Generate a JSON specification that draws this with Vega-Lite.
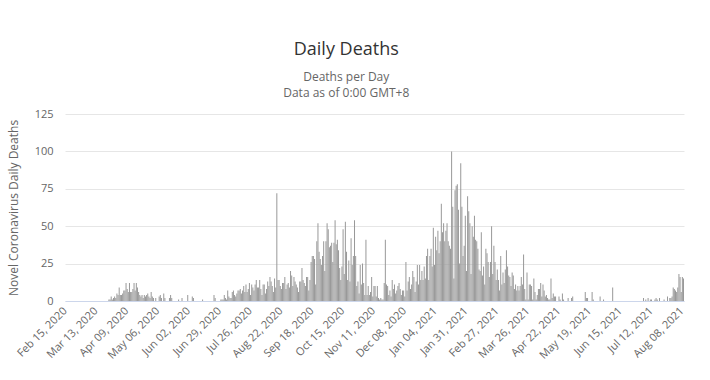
{
"$schema":"https://vega.github.io/schema/vega-lite/v6.json",
"width":619,"height":187,
"autosize":{"type":"none"},
"padding":{"left":65,"top":114,"right":26,"bottom":79},
"background":"white",
"config":{"view":{"stroke":null},"font":"Open Sans"},
"title":{"text":"Daily Deaths","subtitle":["Deaths per Day","Data as of 0:00 GMT+8"],"anchor":"middle","frame":"bounds","fontSize":18,"fontWeight":"normal","color":"#333333","subtitleFontSize":12,"subtitleColor":"#666666","subtitleLineHeight":16,"subtitlePadding":13,"offset":9},
"data":{"values":[
{"date":"2020-02-15","deaths":0},{"date":"2020-02-16","deaths":0},{"date":"2020-02-17","deaths":0},{"date":"2020-02-18","deaths":0},{"date":"2020-02-19","deaths":0},{"date":"2020-02-20","deaths":0},{"date":"2020-02-21","deaths":0},{"date":"2020-02-22","deaths":0},{"date":"2020-02-23","deaths":0},{"date":"2020-02-24","deaths":0},{"date":"2020-02-25","deaths":0},{"date":"2020-02-26","deaths":0},{"date":"2020-02-27","deaths":0},{"date":"2020-02-28","deaths":0},{"date":"2020-02-29","deaths":0},
{"date":"2020-03-01","deaths":0},{"date":"2020-03-02","deaths":0},{"date":"2020-03-03","deaths":0},{"date":"2020-03-04","deaths":0},{"date":"2020-03-05","deaths":0},{"date":"2020-03-06","deaths":0},{"date":"2020-03-07","deaths":0},{"date":"2020-03-08","deaths":0},{"date":"2020-03-09","deaths":0},{"date":"2020-03-10","deaths":0},{"date":"2020-03-11","deaths":0},{"date":"2020-03-12","deaths":0},{"date":"2020-03-13","deaths":0},{"date":"2020-03-14","deaths":0},{"date":"2020-03-15","deaths":0},{"date":"2020-03-16","deaths":0},{"date":"2020-03-17","deaths":0},{"date":"2020-03-18","deaths":0},{"date":"2020-03-19","deaths":0},{"date":"2020-03-20","deaths":0},{"date":"2020-03-21","deaths":0},{"date":"2020-03-22","deaths":0},{"date":"2020-03-23","deaths":0},{"date":"2020-03-24","deaths":1},{"date":"2020-03-25","deaths":1},{"date":"2020-03-26","deaths":3},{"date":"2020-03-27","deaths":1},{"date":"2020-03-28","deaths":2},{"date":"2020-03-29","deaths":3},{"date":"2020-03-30","deaths":2},{"date":"2020-03-31","deaths":5},
{"date":"2020-04-01","deaths":4},{"date":"2020-04-02","deaths":9},{"date":"2020-04-03","deaths":4},{"date":"2020-04-04","deaths":4},{"date":"2020-04-05","deaths":5},{"date":"2020-04-06","deaths":7},{"date":"2020-04-07","deaths":7},{"date":"2020-04-08","deaths":12},{"date":"2020-04-09","deaths":8},{"date":"2020-04-10","deaths":6},{"date":"2020-04-11","deaths":12},{"date":"2020-04-12","deaths":6},{"date":"2020-04-13","deaths":6},{"date":"2020-04-14","deaths":8},{"date":"2020-04-15","deaths":12},{"date":"2020-04-16","deaths":7},{"date":"2020-04-17","deaths":12},{"date":"2020-04-18","deaths":9},{"date":"2020-04-19","deaths":6},{"date":"2020-04-20","deaths":4},{"date":"2020-04-21","deaths":3},{"date":"2020-04-22","deaths":4},{"date":"2020-04-23","deaths":2},{"date":"2020-04-24","deaths":4},{"date":"2020-04-25","deaths":3},{"date":"2020-04-26","deaths":4},{"date":"2020-04-27","deaths":5},{"date":"2020-04-28","deaths":3},{"date":"2020-04-29","deaths":2},{"date":"2020-04-30","deaths":6},
{"date":"2020-05-01","deaths":3},{"date":"2020-05-02","deaths":2},{"date":"2020-05-03","deaths":0},{"date":"2020-05-04","deaths":2},{"date":"2020-05-05","deaths":0},{"date":"2020-05-06","deaths":0},{"date":"2020-05-07","deaths":3},{"date":"2020-05-08","deaths":4},{"date":"2020-05-09","deaths":2},{"date":"2020-05-10","deaths":0},{"date":"2020-05-11","deaths":5},{"date":"2020-05-12","deaths":2},{"date":"2020-05-13","deaths":0},{"date":"2020-05-14","deaths":0},{"date":"2020-05-15","deaths":0},{"date":"2020-05-16","deaths":2},{"date":"2020-05-17","deaths":4},{"date":"2020-05-18","deaths":2},{"date":"2020-05-19","deaths":0},{"date":"2020-05-20","deaths":0},{"date":"2020-05-21","deaths":0},{"date":"2020-05-22","deaths":0},{"date":"2020-05-23","deaths":0},{"date":"2020-05-24","deaths":1},{"date":"2020-05-25","deaths":0},{"date":"2020-05-26","deaths":0},{"date":"2020-05-27","deaths":2},{"date":"2020-05-28","deaths":0},{"date":"2020-05-29","deaths":0},{"date":"2020-05-30","deaths":0},{"date":"2020-05-31","deaths":0},
{"date":"2020-06-01","deaths":4},{"date":"2020-06-02","deaths":0},{"date":"2020-06-03","deaths":0},{"date":"2020-06-04","deaths":0},{"date":"2020-06-05","deaths":3},{"date":"2020-06-06","deaths":2},{"date":"2020-06-07","deaths":0},{"date":"2020-06-08","deaths":0},{"date":"2020-06-09","deaths":0},{"date":"2020-06-10","deaths":0},{"date":"2020-06-11","deaths":0},{"date":"2020-06-12","deaths":0},{"date":"2020-06-13","deaths":0},{"date":"2020-06-14","deaths":1},{"date":"2020-06-15","deaths":0},{"date":"2020-06-16","deaths":0},{"date":"2020-06-17","deaths":0},{"date":"2020-06-18","deaths":0},{"date":"2020-06-19","deaths":0},{"date":"2020-06-20","deaths":0},{"date":"2020-06-21","deaths":0},{"date":"2020-06-22","deaths":0},{"date":"2020-06-23","deaths":0},{"date":"2020-06-24","deaths":4},{"date":"2020-06-25","deaths":2},{"date":"2020-06-26","deaths":0},{"date":"2020-06-27","deaths":0},{"date":"2020-06-28","deaths":0},{"date":"2020-06-29","deaths":0},{"date":"2020-06-30","deaths":1},
{"date":"2020-07-01","deaths":1},{"date":"2020-07-02","deaths":1},{"date":"2020-07-03","deaths":4},{"date":"2020-07-04","deaths":2},{"date":"2020-07-05","deaths":1},{"date":"2020-07-06","deaths":7},{"date":"2020-07-07","deaths":3},{"date":"2020-07-08","deaths":2},{"date":"2020-07-09","deaths":2},{"date":"2020-07-10","deaths":6},{"date":"2020-07-11","deaths":7},{"date":"2020-07-12","deaths":4},{"date":"2020-07-13","deaths":3},{"date":"2020-07-14","deaths":5},{"date":"2020-07-15","deaths":7},{"date":"2020-07-16","deaths":7},{"date":"2020-07-17","deaths":8},{"date":"2020-07-18","deaths":5},{"date":"2020-07-19","deaths":7},{"date":"2020-07-20","deaths":10},{"date":"2020-07-21","deaths":6},{"date":"2020-07-22","deaths":11},{"date":"2020-07-23","deaths":6},{"date":"2020-07-24","deaths":8},{"date":"2020-07-25","deaths":12},{"date":"2020-07-26","deaths":4},{"date":"2020-07-27","deaths":11},{"date":"2020-07-28","deaths":9},{"date":"2020-07-29","deaths":7},{"date":"2020-07-30","deaths":11},{"date":"2020-07-31","deaths":14},
{"date":"2020-08-01","deaths":9},{"date":"2020-08-02","deaths":9},{"date":"2020-08-03","deaths":14},{"date":"2020-08-04","deaths":8},{"date":"2020-08-05","deaths":4},{"date":"2020-08-06","deaths":11},{"date":"2020-08-07","deaths":11},{"date":"2020-08-08","deaths":5},{"date":"2020-08-09","deaths":8},{"date":"2020-08-10","deaths":13},{"date":"2020-08-11","deaths":10},{"date":"2020-08-12","deaths":16},{"date":"2020-08-13","deaths":13},{"date":"2020-08-14","deaths":10},{"date":"2020-08-15","deaths":6},{"date":"2020-08-16","deaths":15},{"date":"2020-08-17","deaths":9},{"date":"2020-08-18","deaths":72},{"date":"2020-08-19","deaths":14},{"date":"2020-08-20","deaths":14},{"date":"2020-08-21","deaths":10},{"date":"2020-08-22","deaths":8},{"date":"2020-08-23","deaths":12},{"date":"2020-08-24","deaths":12},{"date":"2020-08-25","deaths":16},{"date":"2020-08-26","deaths":8},{"date":"2020-08-27","deaths":11},{"date":"2020-08-28","deaths":12},{"date":"2020-08-29","deaths":9},{"date":"2020-08-30","deaths":20},{"date":"2020-08-31","deaths":17},
{"date":"2020-09-01","deaths":10},{"date":"2020-09-02","deaths":16},{"date":"2020-09-03","deaths":13},{"date":"2020-09-04","deaths":11},{"date":"2020-09-05","deaths":9},{"date":"2020-09-06","deaths":6},{"date":"2020-09-07","deaths":13},{"date":"2020-09-08","deaths":13},{"date":"2020-09-09","deaths":22},{"date":"2020-09-10","deaths":14},{"date":"2020-09-11","deaths":12},{"date":"2020-09-12","deaths":10},{"date":"2020-09-13","deaths":16},{"date":"2020-09-14","deaths":16},{"date":"2020-09-15","deaths":7},{"date":"2020-09-16","deaths":14},{"date":"2020-09-17","deaths":26},{"date":"2020-09-18","deaths":30},{"date":"2020-09-19","deaths":30},{"date":"2020-09-20","deaths":28},{"date":"2020-09-21","deaths":11},{"date":"2020-09-22","deaths":40},{"date":"2020-09-23","deaths":52},{"date":"2020-09-24","deaths":33},{"date":"2020-09-25","deaths":28},{"date":"2020-09-26","deaths":24},{"date":"2020-09-27","deaths":30},{"date":"2020-09-28","deaths":40},{"date":"2020-09-29","deaths":20},{"date":"2020-09-30","deaths":40},
{"date":"2020-10-01","deaths":52},{"date":"2020-10-02","deaths":48},{"date":"2020-10-03","deaths":36},{"date":"2020-10-04","deaths":37},{"date":"2020-10-05","deaths":39},{"date":"2020-10-06","deaths":26},{"date":"2020-10-07","deaths":39},{"date":"2020-10-08","deaths":54},{"date":"2020-10-09","deaths":38},{"date":"2020-10-10","deaths":41},{"date":"2020-10-11","deaths":34},{"date":"2020-10-12","deaths":22},{"date":"2020-10-13","deaths":14},{"date":"2020-10-14","deaths":23},{"date":"2020-10-15","deaths":48},{"date":"2020-10-16","deaths":18},{"date":"2020-10-17","deaths":53},{"date":"2020-10-18","deaths":33},{"date":"2020-10-19","deaths":14},{"date":"2020-10-20","deaths":27},{"date":"2020-10-21","deaths":13},{"date":"2020-10-22","deaths":42},{"date":"2020-10-23","deaths":24},{"date":"2020-10-24","deaths":30},{"date":"2020-10-25","deaths":54},{"date":"2020-10-26","deaths":30},{"date":"2020-10-27","deaths":10},{"date":"2020-10-28","deaths":13},{"date":"2020-10-29","deaths":5},{"date":"2020-10-30","deaths":24},{"date":"2020-10-31","deaths":11},
{"date":"2020-11-01","deaths":25},{"date":"2020-11-02","deaths":12},{"date":"2020-11-03","deaths":4},{"date":"2020-11-04","deaths":41},{"date":"2020-11-05","deaths":4},{"date":"2020-11-06","deaths":10},{"date":"2020-11-07","deaths":4},{"date":"2020-11-08","deaths":6},{"date":"2020-11-09","deaths":16},{"date":"2020-11-10","deaths":3},{"date":"2020-11-11","deaths":10},{"date":"2020-11-12","deaths":10},{"date":"2020-11-13","deaths":3},{"date":"2020-11-14","deaths":10},{"date":"2020-11-15","deaths":2},{"date":"2020-11-16","deaths":1},{"date":"2020-11-17","deaths":2},{"date":"2020-11-18","deaths":1},{"date":"2020-11-19","deaths":1},{"date":"2020-11-20","deaths":12},{"date":"2020-11-21","deaths":41},{"date":"2020-11-22","deaths":11},{"date":"2020-11-23","deaths":10},{"date":"2020-11-24","deaths":4},{"date":"2020-11-25","deaths":7},{"date":"2020-11-26","deaths":3},{"date":"2020-11-27","deaths":14},{"date":"2020-11-28","deaths":8},{"date":"2020-11-29","deaths":11},{"date":"2020-11-30","deaths":5},
{"date":"2020-12-01","deaths":7},{"date":"2020-12-02","deaths":10},{"date":"2020-12-03","deaths":12},{"date":"2020-12-04","deaths":8},{"date":"2020-12-05","deaths":4},{"date":"2020-12-06","deaths":7},{"date":"2020-12-07","deaths":7},{"date":"2020-12-08","deaths":3},{"date":"2020-12-09","deaths":26},{"date":"2020-12-10","deaths":7},{"date":"2020-12-11","deaths":13},{"date":"2020-12-12","deaths":16},{"date":"2020-12-13","deaths":8},{"date":"2020-12-14","deaths":11},{"date":"2020-12-15","deaths":20},{"date":"2020-12-16","deaths":16},{"date":"2020-12-17","deaths":6},{"date":"2020-12-18","deaths":13},{"date":"2020-12-19","deaths":24},{"date":"2020-12-20","deaths":11},{"date":"2020-12-21","deaths":24},{"date":"2020-12-22","deaths":14},{"date":"2020-12-23","deaths":20},{"date":"2020-12-24","deaths":14},{"date":"2020-12-25","deaths":23},{"date":"2020-12-26","deaths":15},{"date":"2020-12-27","deaths":30},{"date":"2020-12-28","deaths":35},{"date":"2020-12-29","deaths":14},{"date":"2020-12-30","deaths":30},{"date":"2020-12-31","deaths":35},
{"date":"2021-01-01","deaths":23},{"date":"2021-01-02","deaths":49},{"date":"2021-01-03","deaths":24},{"date":"2021-01-04","deaths":43},{"date":"2021-01-05","deaths":34},{"date":"2021-01-06","deaths":47},{"date":"2021-01-07","deaths":32},{"date":"2021-01-08","deaths":40},{"date":"2021-01-09","deaths":65},{"date":"2021-01-10","deaths":46},{"date":"2021-01-11","deaths":52},{"date":"2021-01-12","deaths":40},{"date":"2021-01-13","deaths":47},{"date":"2021-01-14","deaths":52},{"date":"2021-01-15","deaths":40},{"date":"2021-01-16","deaths":37},{"date":"2021-01-17","deaths":35},{"date":"2021-01-18","deaths":100},{"date":"2021-01-19","deaths":63},{"date":"2021-01-20","deaths":15},{"date":"2021-01-21","deaths":74},{"date":"2021-01-22","deaths":77},{"date":"2021-01-23","deaths":78},{"date":"2021-01-24","deaths":61},{"date":"2021-01-25","deaths":25},{"date":"2021-01-26","deaths":92},{"date":"2021-01-27","deaths":63},{"date":"2021-01-28","deaths":30},{"date":"2021-01-29","deaths":37},{"date":"2021-01-30","deaths":57},{"date":"2021-01-31","deaths":20},
{"date":"2021-02-01","deaths":70},{"date":"2021-02-02","deaths":60},{"date":"2021-02-03","deaths":52},{"date":"2021-02-04","deaths":18},{"date":"2021-02-05","deaths":50},{"date":"2021-02-06","deaths":43},{"date":"2021-02-07","deaths":57},{"date":"2021-02-08","deaths":41},{"date":"2021-02-09","deaths":40},{"date":"2021-02-10","deaths":35},{"date":"2021-02-11","deaths":21},{"date":"2021-02-12","deaths":20},{"date":"2021-02-13","deaths":46},{"date":"2021-02-14","deaths":17},{"date":"2021-02-15","deaths":23},{"date":"2021-02-16","deaths":11},{"date":"2021-02-17","deaths":35},{"date":"2021-02-18","deaths":32},{"date":"2021-02-19","deaths":26},{"date":"2021-02-20","deaths":16},{"date":"2021-02-21","deaths":26},{"date":"2021-02-22","deaths":50},{"date":"2021-02-23","deaths":18},{"date":"2021-02-24","deaths":37},{"date":"2021-02-25","deaths":26},{"date":"2021-02-26","deaths":14},{"date":"2021-02-27","deaths":21},{"date":"2021-02-28","deaths":14},
{"date":"2021-03-01","deaths":7},{"date":"2021-03-02","deaths":30},{"date":"2021-03-03","deaths":11},{"date":"2021-03-04","deaths":19},{"date":"2021-03-05","deaths":12},{"date":"2021-03-06","deaths":21},{"date":"2021-03-07","deaths":34},{"date":"2021-03-08","deaths":23},{"date":"2021-03-09","deaths":17},{"date":"2021-03-10","deaths":16},{"date":"2021-03-11","deaths":10},{"date":"2021-03-12","deaths":19},{"date":"2021-03-13","deaths":17},{"date":"2021-03-14","deaths":8},{"date":"2021-03-15","deaths":11},{"date":"2021-03-16","deaths":7},{"date":"2021-03-17","deaths":10},{"date":"2021-03-18","deaths":7},{"date":"2021-03-19","deaths":10},{"date":"2021-03-20","deaths":16},{"date":"2021-03-21","deaths":11},{"date":"2021-03-22","deaths":31},{"date":"2021-03-23","deaths":8},{"date":"2021-03-24","deaths":1},{"date":"2021-03-25","deaths":19},{"date":"2021-03-26","deaths":1},{"date":"2021-03-27","deaths":11},{"date":"2021-03-28","deaths":11},{"date":"2021-03-29","deaths":10},{"date":"2021-03-30","deaths":1},{"date":"2021-03-31","deaths":15},
{"date":"2021-04-01","deaths":6},{"date":"2021-04-02","deaths":1},{"date":"2021-04-03","deaths":4},{"date":"2021-04-04","deaths":8},{"date":"2021-04-05","deaths":8},{"date":"2021-04-06","deaths":12},{"date":"2021-04-07","deaths":3},{"date":"2021-04-08","deaths":11},{"date":"2021-04-09","deaths":7},{"date":"2021-04-10","deaths":3},{"date":"2021-04-11","deaths":4},{"date":"2021-04-12","deaths":2},{"date":"2021-04-13","deaths":1},{"date":"2021-04-14","deaths":1},{"date":"2021-04-15","deaths":15},{"date":"2021-04-16","deaths":2},{"date":"2021-04-17","deaths":5},{"date":"2021-04-18","deaths":3},{"date":"2021-04-19","deaths":3},{"date":"2021-04-20","deaths":0},{"date":"2021-04-21","deaths":0},{"date":"2021-04-22","deaths":3},{"date":"2021-04-23","deaths":1},{"date":"2021-04-24","deaths":0},{"date":"2021-04-25","deaths":5},{"date":"2021-04-26","deaths":1},{"date":"2021-04-27","deaths":0},{"date":"2021-04-28","deaths":0},{"date":"2021-04-29","deaths":0},{"date":"2021-04-30","deaths":2},
{"date":"2021-05-01","deaths":0},{"date":"2021-05-02","deaths":0},{"date":"2021-05-03","deaths":2},{"date":"2021-05-04","deaths":3},{"date":"2021-05-05","deaths":0},{"date":"2021-05-06","deaths":0},{"date":"2021-05-07","deaths":0},{"date":"2021-05-08","deaths":0},{"date":"2021-05-09","deaths":0},{"date":"2021-05-10","deaths":0},{"date":"2021-05-11","deaths":0},{"date":"2021-05-12","deaths":0},{"date":"2021-05-13","deaths":0},{"date":"2021-05-14","deaths":0},{"date":"2021-05-15","deaths":6},{"date":"2021-05-16","deaths":2},{"date":"2021-05-17","deaths":2},{"date":"2021-05-18","deaths":0},{"date":"2021-05-19","deaths":0},{"date":"2021-05-20","deaths":0},{"date":"2021-05-21","deaths":6},{"date":"2021-05-22","deaths":1},{"date":"2021-05-23","deaths":0},{"date":"2021-05-24","deaths":0},{"date":"2021-05-25","deaths":0},{"date":"2021-05-26","deaths":0},{"date":"2021-05-27","deaths":0},{"date":"2021-05-28","deaths":3},{"date":"2021-05-29","deaths":0},{"date":"2021-05-30","deaths":0},{"date":"2021-05-31","deaths":1},
{"date":"2021-06-01","deaths":0},{"date":"2021-06-02","deaths":0},{"date":"2021-06-03","deaths":0},{"date":"2021-06-04","deaths":0},{"date":"2021-06-05","deaths":0},{"date":"2021-06-06","deaths":0},{"date":"2021-06-07","deaths":0},{"date":"2021-06-08","deaths":9},{"date":"2021-06-09","deaths":0},{"date":"2021-06-10","deaths":0},{"date":"2021-06-11","deaths":0},{"date":"2021-06-12","deaths":0},{"date":"2021-06-13","deaths":0},{"date":"2021-06-14","deaths":0},{"date":"2021-06-15","deaths":0},{"date":"2021-06-16","deaths":0},{"date":"2021-06-17","deaths":0},{"date":"2021-06-18","deaths":0},{"date":"2021-06-19","deaths":0},{"date":"2021-06-20","deaths":0},{"date":"2021-06-21","deaths":0},{"date":"2021-06-22","deaths":0},{"date":"2021-06-23","deaths":0},{"date":"2021-06-24","deaths":0},{"date":"2021-06-25","deaths":0},{"date":"2021-06-26","deaths":0},{"date":"2021-06-27","deaths":0},{"date":"2021-06-28","deaths":0},{"date":"2021-06-29","deaths":0},{"date":"2021-06-30","deaths":0},
{"date":"2021-07-01","deaths":0},{"date":"2021-07-02","deaths":0},{"date":"2021-07-03","deaths":0},{"date":"2021-07-04","deaths":0},{"date":"2021-07-05","deaths":2},{"date":"2021-07-06","deaths":0},{"date":"2021-07-07","deaths":1},{"date":"2021-07-08","deaths":0},{"date":"2021-07-09","deaths":2},{"date":"2021-07-10","deaths":0},{"date":"2021-07-11","deaths":1},{"date":"2021-07-12","deaths":1},{"date":"2021-07-13","deaths":0},{"date":"2021-07-14","deaths":0},{"date":"2021-07-15","deaths":1},{"date":"2021-07-16","deaths":2},{"date":"2021-07-17","deaths":1},{"date":"2021-07-18","deaths":0},{"date":"2021-07-19","deaths":2},{"date":"2021-07-20","deaths":0},{"date":"2021-07-21","deaths":0},{"date":"2021-07-22","deaths":0},{"date":"2021-07-23","deaths":1},{"date":"2021-07-24","deaths":0},{"date":"2021-07-25","deaths":0},{"date":"2021-07-26","deaths":3},{"date":"2021-07-27","deaths":0},{"date":"2021-07-28","deaths":2},{"date":"2021-07-29","deaths":2},{"date":"2021-07-30","deaths":3},{"date":"2021-07-31","deaths":9},
{"date":"2021-08-01","deaths":8},{"date":"2021-08-02","deaths":7},{"date":"2021-08-03","deaths":6},{"date":"2021-08-04","deaths":9},{"date":"2021-08-05","deaths":18},{"date":"2021-08-06","deaths":16},{"date":"2021-08-07","deaths":6},{"date":"2021-08-08","deaths":16},{"date":"2021-08-09","deaths":15}
]},
"mark":{"type":"bar","color":"#999999"},
"encoding":{
"x":{"field":"date","type":"ordinal","sort":"ascending","scale":{"paddingInner":0.12,"paddingOuter":0},
"axis":{"title":null,"values":["2020-02-15","2020-03-13","2020-04-09","2020-05-06","2020-06-02","2020-06-29","2020-07-26","2020-08-22","2020-09-18","2020-10-15","2020-11-11","2020-12-08","2021-01-04","2021-01-31","2021-02-27","2021-03-26","2021-04-22","2021-05-19","2021-06-15","2021-07-12","2021-08-08"],
"labelExpr":"utcFormat(toDate(datum.value), '%b %d, %Y')","labelAngle":-45,"labelAlign":"right","labelBaseline":"middle","labelPadding":8,"ticks":false,"domainColor":"#ccd6eb","domainWidth":1,"labelFontSize":11,"labelColor":"#666666","labelFont":"Open Sans","labelOverlap":false,"grid":false}},
"y":{"field":"deaths","type":"quantitative","scale":{"domain":[0,125],"nice":false},
"axis":{"title":"Novel Coronavirus Daily Deaths","values":[0,25,50,75,100,125],"titleFontSize":12,"titleFontWeight":"normal","titleColor":"#666666","titleFont":"Open Sans","titlePadding":14,"labelPadding":12,"ticks":false,"domain":false,"gridColor":"#e6e6e6","labelFontSize":11,"labelColor":"#666666","labelFont":"Open Sans"}}
}
}
